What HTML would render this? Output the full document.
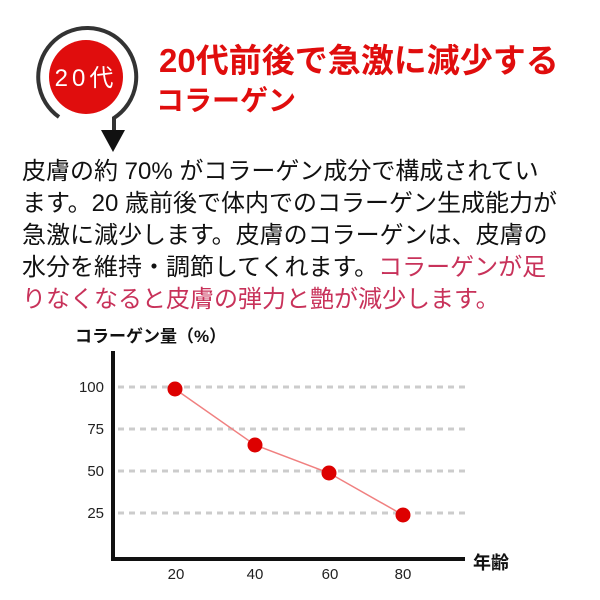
<!DOCTYPE html>
<html><head><meta charset="utf-8"><style>
body{margin:0;width:600px;height:600px;background:#fff;overflow:hidden;position:relative;font-family:"Liberation Sans","Noto Sans CJK JP",sans-serif}
.a{position:absolute;white-space:nowrap}
</style></head><body>
<svg class="a" style="left:0;top:0" width="600" height="600">
<path d="M59 117 A49 49 0 1 1 114 118 L114 132" fill="none" stroke="#333" stroke-width="4"/>
<polygon points="101,130 125,130 113,152" fill="#111"/>
<circle cx="86" cy="77" r="37" fill="#e00d0d"/>
<text x="86" y="86" font-size="24" fill="#fff" text-anchor="middle" font-family="Liberation Sans,Noto Sans CJK JP,sans-serif" letter-spacing="4">20代</text>
<g stroke="#ccc" stroke-width="3" stroke-dasharray="6,5">
<line x1="118" y1="387" x2="465" y2="387"/><line x1="118" y1="429" x2="465" y2="429"/>
<line x1="118" y1="471" x2="465" y2="471"/><line x1="118" y1="513" x2="465" y2="513"/></g>
<polyline points="175,389 255,445 329,473 403,515" fill="none" stroke="#f08080" stroke-width="1.5"/>
<g fill="#d00"><circle cx="175" cy="389" r="7.5"/><circle cx="255" cy="445" r="7.5"/><circle cx="329" cy="473" r="7.5"/><circle cx="403" cy="515" r="7.5"/></g>
<path d="M113 351 V559 H465" fill="none" stroke="#111" stroke-width="4"/>
<g font-size="15" fill="#222" text-anchor="end" font-family="Liberation Sans,sans-serif">
<text x="104" y="392">100</text><text x="104" y="434">75</text><text x="104" y="476">50</text><text x="104" y="518">25</text></g>
<g font-size="15" fill="#222" text-anchor="middle" font-family="Liberation Sans,sans-serif">
<text x="176" y="579">20</text><text x="255" y="579">40</text><text x="330" y="579">60</text><text x="403" y="579">80</text></g>
</svg>
<div class="a" style="left:159px;top:34px;font-size:33px;font-weight:bold;color:#e00d0d">20代前後で急激に減少する</div>
<div class="a" style="left:156px;top:79px;font-size:28px;font-weight:bold;color:#e00d0d">コラーゲン</div>
<div class="a" style="left:22px;top:156px;font-size:24px;line-height:32px;color:#111">皮膚の約 70% がコラーゲン成分で構成されてい<br>ます。20 歳前後で体内でのコラーゲン生成能力が<br>急激に減少します。皮膚のコラーゲンは、皮膚の<br>水分を維持・調節してくれます。<span style="color:#c8325a">コラーゲンが足</span><br><span style="color:#c8325a">りなくなると皮膚の弾力と艶が減少します。</span></div>
<div class="a" style="left:75px;top:322px;font-size:17px;font-weight:bold;color:#111">コラーゲン量（%）</div>
<div class="a" style="left:473px;top:549px;font-size:18px;font-weight:bold;color:#111">年齢</div>
</body></html>
